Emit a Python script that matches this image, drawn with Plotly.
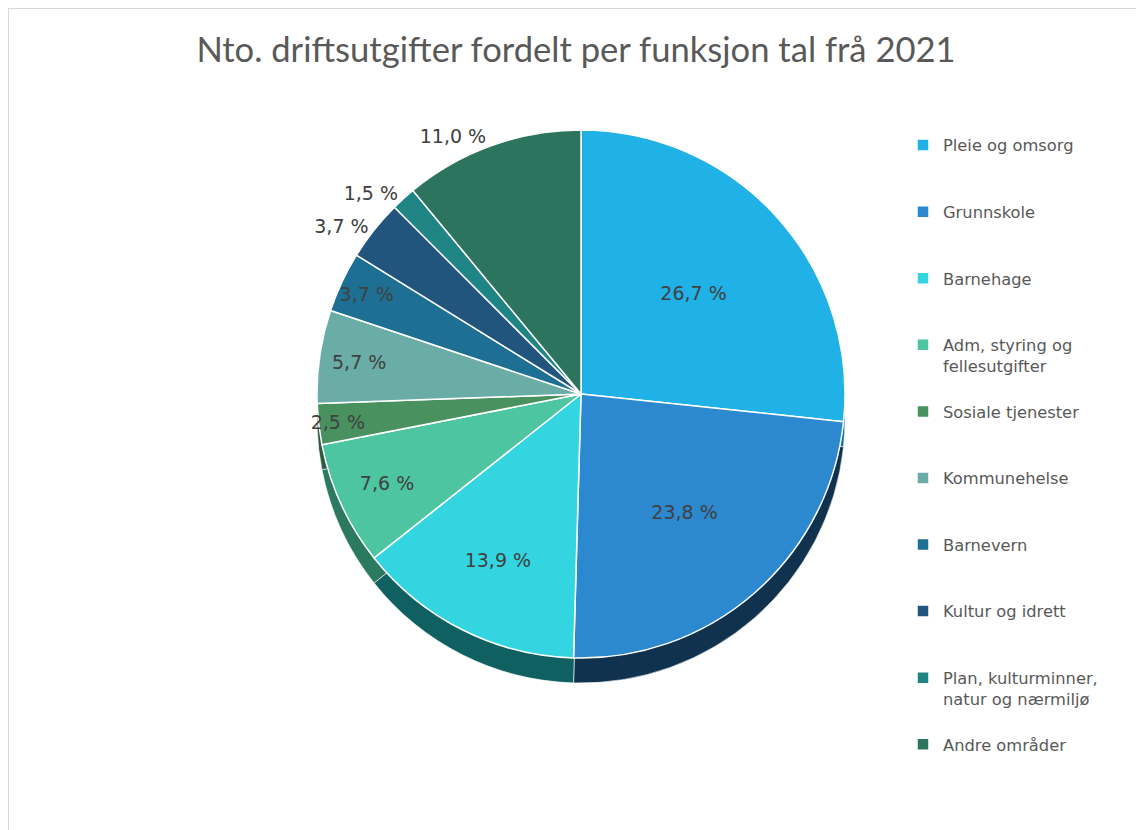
import plotly.graph_objects as go

# ---- data ----
categories = [
    "Pleie og omsorg",
    "Grunnskole",
    "Barnehage",
    "Adm, styring og<br>fellesutgifter",
    "Sosiale tjenester",
    "Kommunehelse",
    "Barnevern",
    "Kultur og idrett",
    "Plan, kulturminner,<br>natur og nærmiljø",
    "Andre områder",
]
values = [26.7, 23.8, 13.9, 7.6, 2.5, 5.7, 3.7, 3.7, 1.5, 11.0]
label_positions = ["inside", "inside", "inside", "inside", "inside",
                   "inside", "inside", "outside", "outside", "outside"]
title_text = "Nto. driftsutgifter fordelt per funksjon tal frå 2021"

# ---- styles ----
top_colors = ["#20B1E7", "#2D89CF", "#32D5E0", "#4DC5A0", "#4A9160",
              "#6AADA6", "#1D7093", "#22557E", "#1F8484", "#2C745E"]
side_colors = ["#137099", "#10324F", "#106062", "#2B7A60", "#2D5A3C",
               "#3D6B66", "#10445A", "#13324C", "#124F4F", "#1A4638"]

W, H = 1136, 822
cx, cy, r = 573, 386, 264
depth = 25

# legend labels padded to equal height (3 lines each)
legend_labels = []
for c in categories:
    n = c.count("<br>") + 1
    legend_labels.append(c + "<br>\u00a0" * (3 - n))

dx = [(cx - r) / W, (cx + r) / W]
dy = [1 - (cy + r) / H, 1 - (cy - r) / H]
dy_side = [dy[0] - depth / H, dy[1] - depth / H]

fig = go.Figure()

# extruded side (darker copy, shifted down)
fig.add_trace(go.Pie(
    labels=legend_labels, values=values, sort=False, direction="clockwise",
    rotation=0, domain=dict(x=dx, y=dy_side),
    marker=dict(colors=side_colors, line=dict(color="rgba(255,255,255,0.6)", width=1)),
    textinfo="none", hoverinfo="skip", showlegend=False,
))

# top face
fig.add_trace(go.Pie(
    labels=legend_labels, values=values, sort=False, direction="clockwise",
    rotation=0, domain=dict(x=dx, y=dy),
    marker=dict(colors=top_colors, line=dict(color="#FFFFFF", width=1.5)),
    texttemplate="%{value:.1f} %", textposition=label_positions,
    insidetextorientation="horizontal",
    textfont=dict(family="DejaVu Sans", size=19, color="#404040"),
    outsidetextfont=dict(family="DejaVu Sans", size=19, color="#404040"),
    hovertemplate="%{label}: %{value:.1f} %<extra></extra>",
))

fig.update_layout(
    width=W, height=H,
    margin=dict(l=0, r=0, t=0, b=0),
    paper_bgcolor="white",
    separators=", ",
    uniformtext=dict(minsize=19, mode="show"),
    title=dict(text=title_text, x=0.5, xanchor="center", y=1 - 42 / H,
               yanchor="middle", yref="container",
               font=dict(family="Lato", size=34.6, color="#595959")),
    legend=dict(x=895 / W, xanchor="left", y=1 - 120 / H, yanchor="top",
                valign="top", traceorder="normal",
                font=dict(family="DejaVu Sans", size=16.3, color="#595959")),
    shapes=[
        dict(type="line", xref="paper", yref="paper", x0=0, x1=0, y0=0, y1=1,
             line=dict(color="#D9D9D9", width=2)),
        dict(type="line", xref="paper", yref="paper", x0=0, x1=1, y0=1, y1=1,
             line=dict(color="#D9D9D9", width=2)),
    ],
)

fig.write_html("out.html")
